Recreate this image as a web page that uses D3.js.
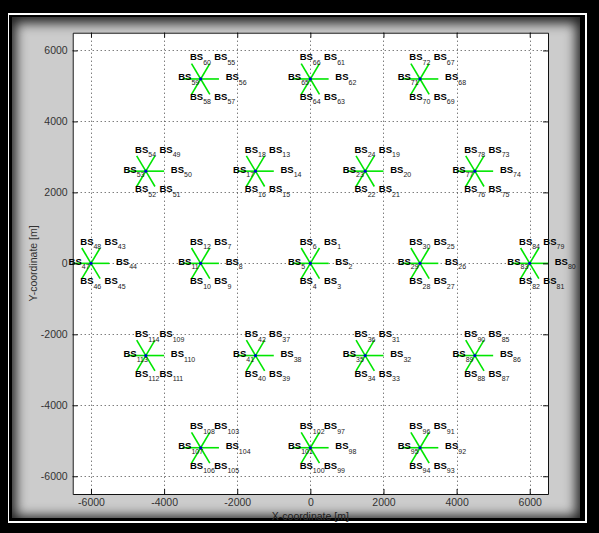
<!DOCTYPE html>
<html>
<head>
<meta charset="utf-8">
<script src="https://cdn.jsdelivr.net/npm/d3@7"></script>
<style>
  html, body { margin:0; padding:0; background:#000; width:599px; height:533px; overflow:hidden; }
  #whiteline { position:absolute; left:8px; top:13px; width:576px; height:506px;
    border-left:1px solid #fff; border-top:2px solid #fff; border-right:2px solid #fff; border-bottom:2px solid #fff; }
  #panel { position:absolute; left:12px; top:17px; width:568px; height:501px; background:#cccccc; }
  #chart { position:absolute; left:0; top:0; }
  #shade { position:absolute; left:12px; top:17px; width:568px; height:501px; pointer-events:none;
    box-shadow: inset 0 2px 12px 4px rgba(0,0,0,0.85); }
</style>
</head>
<body>
<div id="whiteline"></div>
<div id="panel"></div>
<svg id="chart" width="599" height="533"></svg>
<div id="shade"></div>
<script>
// ---- data ----
const clusterBase = [1, 7, 13, 19, 25, 31, 37, 43, 49, 55, 61, 67, 73, 79, 85, 91, 97, 103, 109];
const clusterX = [0, -3000, -1500, 1500, 3000, 1500, -1500, -6000, -4500, -3000, 0, 3000, 4500, 6000, 4500, 3000, 0, -3000, -4500];
const clusterY = [0, 0, 2598, 2598, 0, -2598, -2598, 0, 2598, 5196, 5196, 5196, 2598, 0, -2598, -5196, -5196, -5196, -2598];
const sectorAngles = [60, 0, -60, -120, 180, 120]; // BS_{base+i} direction (deg)
const beamLength = 500; // m
const xTicks = [-6000, -4000, -2000, 0, 2000, 4000, 6000];
const yTicks = [-6000, -4000, -2000, 0, 2000, 4000, 6000];
const xDomain = [-6500, 6500];
const yDomain = [-6500, 6500];
const xLabel = "X-coordinate [m]";
const yLabel = "Y-coordinate [m]";

// ---- layout ----
const L = 72.7, R = 548, T = 32.7, B = 494;
const x = d3.scaleLinear().domain(xDomain).range([L, R]);
const y = d3.scaleLinear().domain(yDomain).range([B, T]);
const svg = d3.select("#chart");
const font = "'Liberation Sans', Arial, Helvetica, sans-serif";

// plot background
svg.append("rect").attr("x", L).attr("y", T).attr("width", R - L).attr("height", B - T).attr("fill", "#fff");

// grid
const grid = svg.append("g").attr("stroke", "#444").attr("stroke-width", 1).attr("stroke-dasharray", "1,3");
grid.selectAll("line.gx").data(xTicks).join("line")
  .attr("x1", d => Math.round(x(d)) + 0.5).attr("x2", d => Math.round(x(d)) + 0.5)
  .attr("y1", T).attr("y2", B);
grid.selectAll("line.gy").data(yTicks).join("line")
  .attr("y1", d => Math.round(y(d)) + 0.5).attr("y2", d => Math.round(y(d)) + 0.5)
  .attr("x1", L).attr("x2", R);

// sectors
const sectors = [];
clusterBase.forEach((b, i) => {
  sectorAngles.forEach((a, k) => {
    sectors.push({ id: b + k, k, cx: clusterX[i], cy: clusterY[i], a });
  });
});
svg.append("g").selectAll("line").data(sectors).join("line")
  .attr("x1", d => x(d.cx)).attr("y1", d => y(d.cy))
  .attr("x2", d => x(d.cx + beamLength * Math.cos(d.a * Math.PI / 180)))
  .attr("y2", d => y(d.cy + beamLength * Math.sin(d.a * Math.PI / 180)))
  .attr("stroke", "#00e600").attr("stroke-width", 1.6);

// centers
svg.append("g").selectAll("circle").data(clusterBase.map((b, i) => [clusterX[i], clusterY[i]])).join("circle")
  .attr("cx", d => x(d[0])).attr("cy", d => y(d[1])).attr("r", 1.6).attr("fill", "#0000d0");

// labels
const off = [[13.6, -18.5], [25, 1.5], [13.6, 21], [-10.7, 21], [-22.4, 1.5], [-10.7, -18.5]];
const lab = svg.append("g").attr("font-family", font);
sectors.forEach(d => {
  const t = lab.append("text")
    .attr("x", x(d.cx) + off[d.k][0]).attr("y", y(d.cy) + off[d.k][1])
    .attr("font-size", 9.5).attr("font-weight", "bold").attr("fill", "#000");
  t.append("tspan").text("BS");
  t.append("tspan").attr("dy", 4.5).attr("font-size", 7).attr("font-weight", "normal").attr("fill", "#222").text(d.id);
});

// axes
const fmt = d => String(d);
const gB = svg.append("g").attr("transform", `translate(0,${B})`)
  .call(d3.axisBottom(x).tickValues(xTicks).tickSizeInner(-5).tickSizeOuter(0).tickPadding(5).tickFormat(fmt));
const gT = svg.append("g").attr("transform", `translate(0,${T})`)
  .call(d3.axisTop(x).tickValues(xTicks).tickSizeInner(-5).tickSizeOuter(0).tickFormat(""));
const gL = svg.append("g").attr("transform", `translate(${L},0)`)
  .call(d3.axisLeft(y).tickValues(yTicks).tickSizeInner(-5).tickSizeOuter(0).tickPadding(5).tickFormat(fmt));
const gR = svg.append("g").attr("transform", `translate(${R},0)`)
  .call(d3.axisRight(y).tickValues(yTicks).tickSizeInner(-5).tickSizeOuter(0).tickFormat(""));
[gB, gT, gL, gR].forEach(g => {
  g.select(".domain").attr("stroke", "#111");
  g.selectAll(".tick line").attr("stroke", "#111");
  g.selectAll("text").attr("font-family", font).attr("font-size", 10.5).attr("fill", "#333");
});

// axis labels
svg.append("text").attr("x", (L + R) / 2).attr("y", 520).attr("text-anchor", "middle")
  .attr("font-family", font).attr("font-size", 10.5).attr("fill", "#333").text(xLabel);
svg.append("text").attr("transform", `translate(37,${(T + B) / 2}) rotate(-90)`).attr("text-anchor", "middle")
  .attr("font-family", font).attr("font-size", 10.5).attr("fill", "#333").text(yLabel);
</script>
</body>
</html>
